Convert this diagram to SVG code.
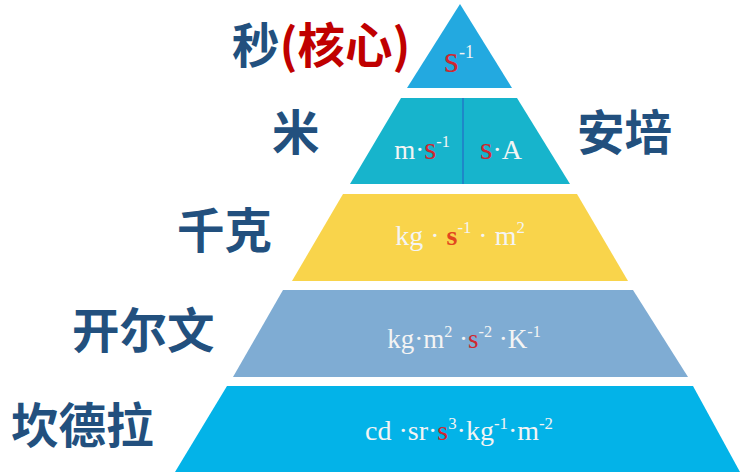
<svg xmlns="http://www.w3.org/2000/svg" width="743" height="473" viewBox="0 0 743 473">
<style>
.lbl{font-family:"Noto Sans CJK SC","Noto Sans",sans-serif;font-weight:bold;font-size:47.5px;fill:#22507E}
.red{fill:#C00000}
.f{font-family:"Liberation Serif",serif;fill:#F4F4F4}
.s{fill:#D0272F}
.sup{font-size:0.6em}
</style>
<rect width="743" height="473" fill="#FFFFFF"/>
<g id="connectors"></g>
<g id="tier1">
<polygon points="460,4 512,88 407,88" fill="#23A9E0"/>
<text class="f" x="459" y="72" font-size="30" text-anchor="middle"><tspan class="s" font-size="38">s</tspan><tspan class="sup" dy="-14">-1</tspan></text>
</g>
<g id="tier2">
<polygon points="401,98 517,98 570,184 350,184" fill="#17B4CC"/>
<line x1="463" y1="98" x2="463" y2="184" stroke="#1E88C8" stroke-width="2"/>
<text class="f" x="422" y="159" font-size="27" text-anchor="middle">m·<tspan class="s" font-size="31">s</tspan><tspan class="sup" dy="-12">-1</tspan></text>
<text class="f" x="501" y="159" font-size="28" text-anchor="middle"><tspan class="s" font-size="32">s</tspan>·A</text>
</g>
<g id="tier3">
<polygon points="343,194 577,194 628,281 292,281" fill="#F9D44B"/>
<text class="f" x="460" y="245" font-size="28" text-anchor="middle">kg · <tspan fill="#E2461E" font-weight="bold">s</tspan><tspan class="sup" dy="-12">-1</tspan><tspan dy="12"> · m</tspan><tspan class="sup" dy="-12">2</tspan></text>
</g>
<g id="tier4">
<polygon points="283,290 633,290 688,377 233,377" fill="#7FACD3"/>
<text class="f" x="464" y="348" font-size="27" text-anchor="middle">kg·m<tspan class="sup" dy="-11">2</tspan><tspan dy="11"> ·</tspan><tspan class="s">s</tspan><tspan class="sup" dy="-11">-2</tspan><tspan dy="11"> ·K</tspan><tspan class="sup" dy="-11">-1</tspan></text>
</g>
<g id="tier5">
<polygon points="227,386 693,386 740,472 175,472" fill="#03B3E8"/>
<text class="f" x="459" y="440" font-size="28" text-anchor="middle">cd ·sr·<tspan class="s">s</tspan><tspan class="sup" dy="-11">3</tspan><tspan dy="11">·kg</tspan><tspan class="sup" dy="-11">-1</tspan><tspan dy="11">·m</tspan><tspan class="sup" dy="-11">-2</tspan></text>
</g>
<g id="label-second"><text class="lbl" x="232" y="63">秒<tspan class="red">(核心)</tspan></text></g>
<g id="label-metre"><text class="lbl" x="272" y="150">米</text></g>
<g id="label-ampere"><text class="lbl" x="577" y="150">安培</text></g>
<g id="label-kilogram"><text class="lbl" x="177" y="248">千克</text></g>
<g id="label-kelvin"><text class="lbl" x="72" y="348">开尔文</text></g>
<g id="label-candela"><text class="lbl" x="11" y="443">坎德拉</text></g>
</svg>
